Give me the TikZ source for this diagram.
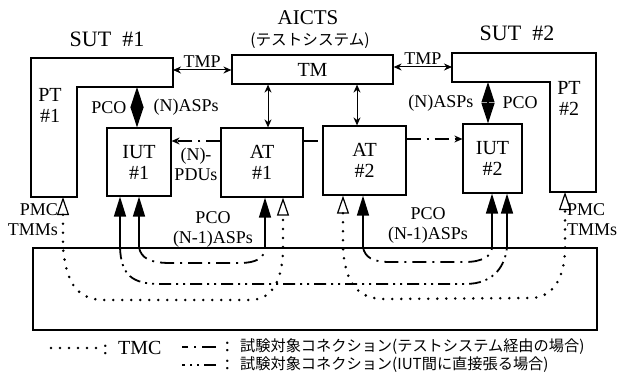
\documentclass[tikz,border=0pt]{standalone}
\usepackage{fontspec}
\setmainfont{Liberation Serif}
\newfontfamily\jp{Noto Sans CJK JP}
\usetikzlibrary{arrows.meta,positioning,calc}

\begin{document}
\begin{tikzpicture}[x=0.5pt,y=-0.5pt,font=\fontsize{10}{10.5}\selectfont,>=Stealth,line width=0.6pt]
  \tikzstyle{box}=[draw,align=center,inner sep=0pt]
  \tikzstyle{lbl}=[align=center,inner sep=1pt,font=\fontsize{9}{10}\selectfont]
  \tikzstyle{title}=[align=center,font=\fontsize{11}{12}\selectfont]
  \tikzstyle{jtext}=[inner sep=1pt,font=\jp\fontsize{7.6}{9}\selectfont]
  \tikzstyle{dbl}=[{Stealth[length=4pt,width=3.5pt]}-{Stealth[length=4pt,width=3.5pt]},line width=0.5pt]
  \tikzstyle{pco}=[{Triangle[length=10.2pt,width=6.5pt]}-{Triangle[length=10.2pt,width=6.5pt]}]
  \tikzstyle{tmc}=[line width=1.4pt,line cap=round,dash pattern=on 0pt off 4.5pt]
  \tikzstyle{viats}=[line width=0.9pt,dash pattern=on 7pt off 3pt on 1pt off 3pt]
  \tikzstyle{direct}=[line width=0.9pt,dash pattern=on 6pt off 2.5pt on 1pt off 2.5pt on 1pt off 2.5pt]
  \tikzstyle{up}=[-{Triangle[length=10pt,width=6pt]},line width=0.8pt]
  \tikzstyle{upo}=[{Triangle[open,length=9pt,width=6pt,line width=0.6pt]}-{Triangle[open,length=9pt,width=6pt,line width=0.6pt]}]

  \useasboundingbox (0,0) rectangle (619,374);

  % titles
  \node[title] (sut1) at (107,39) {SUT\ \ \#1};
  \node[title,font=\fontsize{10.5}{12}\selectfont] (aicts) at (308,18) {AICTS};
  \node[jtext,font=\jp\fontsize{7.8}{9}\selectfont] (aictsj) at (310,41) {(テストシステム)};
  \node[title] (sut2) at (517,33) {SUT\ \ \#2};

  % test system
  \node[box,minimum width=80.5pt,minimum height=14.5pt] (tm) at (312.5,69.5) {TM};
  \node[box,minimum width=41pt,minimum height=34.5pt] (at1) at (262,162.5) {AT\\\#1};
  \node[box,minimum width=41.5pt,minimum height=34.5pt] (at2) at (364.5,160.5) {AT\\\#2};

  % SUT #1
  \draw (31,58) -- (173,58) -- (173,87) -- (77,87) -- (77,197) -- (31,197) -- cycle;
  \node[align=center] (pt1) at (50,105) {PT\\\#1};
  \coordinate (pt1tmp) at (173,70);
  \coordinate (pt1pco) at (137,87);
  \coordinate (pt1pmc) at (63,197);
  \node[box,minimum width=32pt,minimum height=34pt] (iut1) at (139,162) {IUT\\\#1};

  % SUT #2
  \draw (452,53) -- (596,53) -- (596,192) -- (550,192) -- (550,82) -- (452,82) -- cycle;
  \node[align=center] (pt2) at (569,98) {PT\\\#2};
  \coordinate (pt2tmp) at (452,67);
  \coordinate (pt2pco) at (488,82);
  \coordinate (pt2pmc) at (565,192);
  \node[box,minimum width=29.5pt,minimum height=34.5pt] (iut2) at (492.5,158.5) {IUT\\\#2};

  % lower layer
  \node[box,minimum width=282pt,minimum height=41pt] (lower) at (315,289) {};

  % TMP, TM - AT
  \draw[dbl] (pt1tmp) -- (tm.west |- pt1tmp) node[midway,above=0pt,lbl] {TMP};
  \draw[dbl] (tm.east |- pt2tmp) -- (pt2tmp) node[midway,above=0pt,lbl] {TMP};
  \draw[dbl] ([xshift=3pt]at1.north) -- ([xshift=3pt]at1.north |- tm.south);
  \draw[dbl] ([xshift=-3.75pt]at2.north) -- ([xshift=-3.75pt]at2.north |- tm.south);

  % PCO (N)ASPs
  \draw[pco] (pt1pco) -- (iut1.north -| pt1pco)
    node[midway,left=4pt,lbl] {PCO} node[midway,right=7pt,lbl] {(N)ASPs};
  \draw[pco] (pt2pco) -- (iut2.north -| pt2pco)
    node[midway,left=6pt,lbl] {(N)ASPs} node[midway,right=6pt,lbl] {PCO};

  % (N)-PDUs
  \draw[viats,line width=0.6pt,-{Stealth[length=4pt,width=3.5pt]}] ([yshift=10.75pt]at1.west) -- ([yshift=10.75pt]at1.west -| iut1.east)
    node[midway,below=2pt,lbl] {(N)-\\PDUs};
  \draw[viats,line width=0.6pt] ([yshift=10.75pt]at1.east) -- ([yshift=10.75pt]at1.east -| at2.west);
  \draw[viats,line width=0.6pt,-{Stealth[length=4pt,width=3.5pt]}] ([yshift=10.75pt]at2.east) -- ([yshift=10.75pt]at2.east -| iut2.west);

  % lower ends
  \coordinate (a1) at ([xshift=-9.5pt]iut1.south);
  \coordinate (b1) at (iut1.south);
  \coordinate (c1) at ([xshift=1.5pt]at1.south);
  \coordinate (d1) at ([xshift=10.5pt]at1.south);
  \coordinate (d2) at ([xshift=-10.75pt]at2.south);
  \coordinate (c2) at ([xshift=-0.75pt]at2.south);
  \coordinate (b2) at ([xshift=-0.25pt]iut2.south);
  \coordinate (a2) at ([xshift=7.25pt]iut2.south);

  \foreach \p in {a1,b1,c1,c2,b2,a2}
    \draw[up] (\p |- lower.north) -- (\p);

  % connections
  \draw[tmc,upo] (pt1pmc) -- (pt1pmc |- lower.north) .. controls (66,280) and (75,300) .. (105,300)
    -- (250,300) .. controls (275,300) and (283,275) .. (d1 |- lower.north) -- (d1);
  \draw[tmc,upo] (d2) -- (d2 |- lower.north) .. controls (345,280) and (355,299) .. (385,299)
    -- (530,298) .. controls (555,298) and (565,275) .. (pt2pmc |- lower.north) -- (pt2pmc);
  \draw[viats] (b1 |- lower.north) .. controls (141,258) and (150,263) .. (170,263)
    -- (240,263) .. controls (256,263) and (265,258) .. (c1 |- lower.north);
  \draw[viats] (c2 |- lower.north) .. controls (365,257) and (372,262) .. (390,262)
    -- (465,262) .. controls (482,262) and (492,256) .. (b2 |- lower.north);
  \draw[direct] (a1 |- lower.north) .. controls (121,275) and (132,284) .. (160,284)
    -- (465,284) .. controls (495,284) and (505,265) .. (a2 |- lower.north);

  % PMC / PCO labels
  \node[lbl,align=right] (pmc1) at (33,220) {PMC\\TMMs};
  \node[lbl,align=left] (pmc2) at (592,220) {PMC\\TMMs};
  \node[lbl] (n1a) at (213,229) {PCO\\(N-1)ASPs};
  \node[lbl] (n1b) at (428,225) {PCO\\(N-1)ASPs};

  % legend
  \node[anchor=west,inner sep=1pt] (k1) at (100,348) {:\ \ TMC};
  \draw[tmc] ([xshift=-2pt]k1.west) -- ++(-48,0);
  \node[anchor=west,inner sep=1pt] (k2) at (222,347) {:\ \ {\jp\fontsize{7.6}{9}\selectfont 試験対象コネクション(テストシステム経由の場合)}};
  \draw[viats,line width=0.7pt] ([xshift=-3pt]k2.west) -- ++(-34,0);
  \node[anchor=west,inner sep=1pt] (k3) at (222,365) {:\ \ {\jp\fontsize{7.6}{9}\selectfont 試験対象コネクション(IUT間に直接張る場合)}};
  \draw[direct,line width=0.7pt] ([xshift=-3pt]k3.west) -- ++(-34,0);
\end{tikzpicture}
\end{document}
